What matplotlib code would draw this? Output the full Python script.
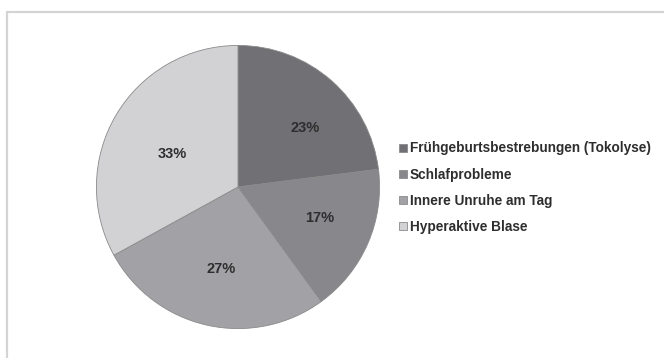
import numpy as np
import matplotlib
matplotlib.use("Agg")
import matplotlib.pyplot as plt
from matplotlib.patches import Rectangle

categories = ["Frühgeburtsbestrebungen (Tokolyse)", "Schlafprobleme",
              "Innere Unruhe am Tag", "Hyperaktive Blase"]
shares = [23, 17, 27, 33]
colors = ["#707075", "#87878c", "#a2a2a6", "#d2d2d4"]

# where each percentage label sits inside its slice (radius fraction, degrees)
label_radius = [0.63, 0.62, 0.59, 0.52]
label_angle = [41.4, -21.0, -101.6, 153.4]

plt.rcParams["font.family"] = ["Liberation Sans", "DejaVu Sans"]

W, H = 664, 358
fig = plt.figure(figsize=(W / 100, H / 100), dpi=100)
fig.patch.set_facecolor("white")

# light frame around the chart area
fig.add_artist(Rectangle((7 / W, -0.05), 1.1, (H - 12) / H + 0.05,
                         transform=fig.transFigure, fill=False,
                         edgecolor="#d4d4d4", linewidth=1.6))

cx, cy, r = 238, 171, 143
ax = fig.add_axes([(cx - r) / W, (cy - r) / H, 2 * r / W, 2 * r / H])
wedges, texts, autotexts = ax.pie(
    shares, colors=colors, startangle=90, counterclock=False,
    autopct="%d%%", pctdistance=0.6,
    wedgeprops=dict(edgecolor="#8a8a8a", linewidth=0.6),
    textprops=dict(fontsize=10.5, fontweight="bold", color="#2e2e2e"))
for t, rad, ang in zip(autotexts, label_radius, label_angle):
    a = np.deg2rad(ang)
    t.set_position((rad * np.cos(a), rad * np.sin(a)))
ax.set_xlim(-1.01, 1.01)
ax.set_ylim(-1.01, 1.01)
ax.set_aspect("equal")

leg = fig.legend(wedges, categories, loc="upper left",
                 bbox_to_anchor=(394 / W, 1 - 136 / H),
                 frameon=False, handlelength=0.55, handleheight=0.55,
                 handletextpad=0.2, labelspacing=0.9, borderaxespad=0,
                 prop=dict(size=9.8, weight="bold"))
for t in leg.get_texts():
    t.set_color("#2e2e2e")

fig.savefig("out.png", dpi=100, facecolor="white")
